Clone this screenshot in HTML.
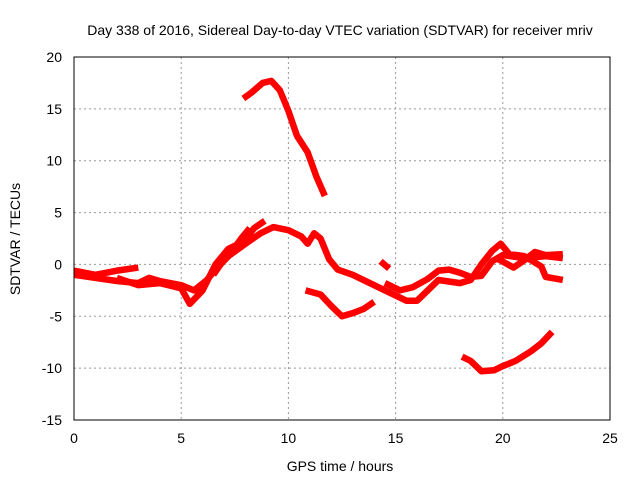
<!DOCTYPE html>
<html><head><meta charset="utf-8"><style>body{margin:0;background:#fff}svg{display:block;font-family:"Liberation Sans",sans-serif}</style></head>
<body>
<svg id="chart" width="640" height="480">
<text x="340" y="35" font-size="14" text-anchor="middle">Day 338 of 2016, Sidereal Day-to-day VTEC variation (SDTVAR) for receiver mriv</text>
<text x="340" y="471" font-size="14" text-anchor="middle">GPS time / hours</text>
<text transform="translate(20,239) rotate(-90)" font-size="14" text-anchor="middle">SDTVAR / TECUs</text>
<g id="grid"></g><g id="series"></g>
<rect x="74" y="57" width="536" height="363" fill="none" stroke="#000" stroke-width="1"/>
</svg>
<script>
const xTicks=[0,5,10,15,20,25];
const yTicks=[-15,-10,-5,0,5,10,15,20];
const arcPeak=[[7.9,16],[8.3,16.6],[8.8,17.5],[9.2,17.7],[9.6,16.8],[10,14.8],[10.4,12.4],[10.9,10.8],[11.3,8.5],[11.7,6.6]];
const earlyA=[[0,-0.6],[1,-1],[2,-0.6],[3,-0.3]];
const earlyB=[[0,-1],[1,-1.3],[2,-1.6],[3,-1.8],[3.5,-1.3],[4,-1.6],[5,-2],[5.6,-2.5],[6.2,-1.5],[6.6,-0.5],[7.2,0.8],[7.8,2.5],[8.2,3.5]];
const earlyC=[[2,-1.3],[3,-2],[4,-1.8],[5,-2.3],[5.4,-3.8],[6,-2.5],[6.6,0],[7.2,1.5],[7.9,2.2],[8.4,3.5],[8.9,4.2]];
const mainTrace=[[6.5,-1],[7,0.5],[8,2],[8.7,3],[9.3,3.6],[10,3.3],[10.6,2.7],[10.9,2.0],[11.2,3],[11.5,2.5],[11.9,0.5],[12.3,-0.5],[13,-1],[14,-2],[14.8,-2.8],[15.5,-3.5],[16,-3.5],[16.5,-2.5],[17,-1.5],[18,-1.8],[18.5,-1.5],[19,0],[19.5,1.3],[19.9,2],[20.3,1.0],[21,0.8],[21.8,-0.2],[22,-1.2],[22.8,-1.5]];
const lateE=[[14.5,-1.8],[15.2,-2.5],[15.8,-2.2],[16.5,-1.4],[17,-0.6],[17.5,-0.5],[18,-0.8],[18.5,-1.2],[19,-1.1],[19.5,0.3],[20,0.9],[21,0.6],[22,0.8],[22.8,0.6]];
const lateF=[[14.3,0.3],[14.7,-0.4]];
const lateI=[[19.8,0.5],[20.5,-0.3],[21,0.4],[21.5,1.2],[22,0.9],[22.8,1.0]];
const dipG=[[10.8,-2.5],[11.5,-2.9],[12,-4],[12.5,-5],[13,-4.7],[13.5,-4.3],[14,-3.6]];
const lowH=[[18.1,-8.9],[18.5,-9.3],[19,-10.3],[19.6,-10.2],[20,-9.8],[20.6,-9.3],[21.3,-8.4],[21.8,-7.6],[22.3,-6.5]];
const allSeries=[arcPeak,earlyA,earlyB,earlyC,mainTrace,lateE,lateF,lateI,dipG,lowH];
const sx=h=>74+h*536/25, sy=v=>57+(20-v)*363/35;
const NS='http://www.w3.org/2000/svg';
const grid=document.getElementById('grid'), ser=document.getElementById('series');
function mk(tag,attrs,parent){const e=document.createElementNS(NS,tag);for(const k in attrs)e.setAttribute(k,attrs[k]);parent.appendChild(e);return e;}
xTicks.forEach(t=>{
 if(t>0&&t<25){const l=mk('line',{x1:sx(t),x2:sx(t),y1:57,y2:420,stroke:'#999','stroke-dasharray':'2,3'},grid);
 
 }
 const tx=mk('text',{x:sx(t),y:443,'font-size':14,'text-anchor':'middle'},grid);tx.textContent=t;
 
 
});
yTicks.forEach(t=>{
 if(t>-15&&t<20){const l=mk('line',{x1:74,x2:610,y1:sy(t),y2:sy(t),stroke:'#999','stroke-dasharray':'2,3'},grid);
 
 }
 const tx=mk('text',{x:62,y:sy(t)+5,'font-size':14,'text-anchor':'end'},grid);tx.textContent=t;
 
 
});
allSeries.forEach((s,i)=>{
 const p=mk('polyline',{points:s.map(d=>sx(d[0])+','+sy(d[1])).join(' '),fill:'none',stroke:'#f00','stroke-width':6.5,'stroke-linejoin':'round'},ser);
 
 
});
</script>
</body></html>
